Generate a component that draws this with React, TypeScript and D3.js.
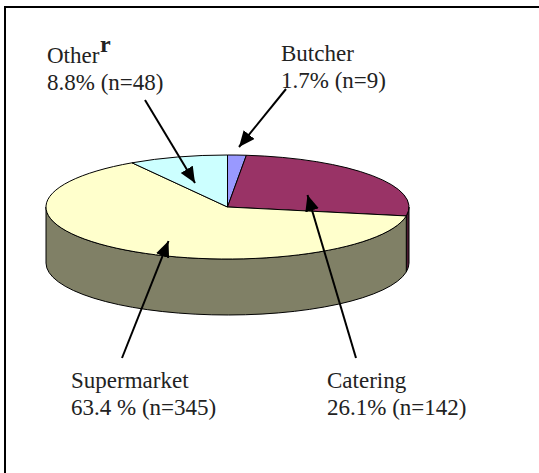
import React from 'react';
import * as d3 from 'd3';

// Pie of purchase locations, drawn as a tilted disc

const categories = ['Butcher', 'Catering', 'Supermarket', 'Other'];
const counts = [9, 142, 345, 48];
const percents = ['1.7%', '26.1%', '63.4 %', '8.8%'];
const topColors = ['#9999ff', '#993366', '#ffffcc', '#ccffff'];
const sideColors = ['#4d4d80', '#4d1a33', '#808066', '#668080'];

const W = 539, H = 473;
const cx = 227.5, cy = 207, rx = 181.5, ry = 52, depth = 56;
const FONT = '"Liberation Serif", "Times New Roman", serif';

const pie = d3.pie<number>().sort(null).value(d => d);
const arcs = pie(counts);
// unit circle, squashed by the transform on the group
const arcGen = d3.arc<d3.PieArcDatum<number>>().innerRadius(0).outerRadius(1);

const px = (a: number) => cx + rx * Math.sin(a);
const py = (a: number) => cy - ry * Math.cos(a);

// only the front half of the rim can be seen
function wallPath(a0: number, a1: number) {
  const s = Math.max(a0, Math.PI / 2), e = Math.min(a1, Math.PI * 1.5);
  if (e <= s) return null;
  return `M${px(s)},${py(s)}A${rx},${ry} 0 0 1 ${px(e)},${py(e)}` +
    `L${px(e)},${py(e) + depth}A${rx},${ry} 0 0 0 ${px(s)},${py(s) + depth}Z`;
}

const labels = [
  { i: 0, x: 281, y: 61, gap: 27 },
  { i: 1, x: 327, y: 388, gap: 27 },
  { i: 2, x: 71, y: 388, gap: 27 },
  { i: 3, x: 47, y: 63, gap: 27 },
];

const arrows = [
  { x1: 286, y1: 89, x2: 239, y2: 147 },
  { x1: 356, y1: 358, x2: 307.5, y2: 195 },
  { x1: 122, y1: 358, x2: 168.5, y2: 241 },
  { x1: 145, y1: 100, x2: 195, y2: 183 },
];

export default function App() {
  return (
    <svg width={W} height={H} style={{ position: 'absolute', left: 0, top: 0, background: '#fff' }}>
      <defs>
        <marker id="head" markerUnits="userSpaceOnUse" markerWidth="18" markerHeight="16"
          refX="16" refY="7" orient="auto">
          <path d="M0,0L16,7L0,14Z" fill="#000" />
        </marker>
      </defs>
      {/* frame runs off the right and bottom of the picture */}
      <rect x={5} y={7} width={W + 10} height={H + 10} fill="#fff" stroke="#000" strokeWidth={2} />
      {arcs.map((d, i) => {
        const p = wallPath(d.startAngle, d.endAngle);
        return p && <path key={i} d={p} fill={sideColors[i]} stroke="#000" strokeWidth={1} />;
      })}
      <g transform={`translate(${cx},${cy}) scale(${rx},${ry})`}>
        {arcs.map((d, i) => (
          <path key={categories[i]} d={arcGen(d) as string} fill={topColors[i]} stroke="#000"
            strokeWidth={1} vectorEffect="non-scaling-stroke" />
        ))}
      </g>
      {arrows.map((a, i) => (
        <line key={i} x1={a.x1} y1={a.y1} x2={a.x2} y2={a.y2} stroke="#000" strokeWidth={2}
          markerEnd="url(#head)" />
      ))}
      <g fontFamily={FONT} fontSize={23} fill="#222">
        {labels.map(l => (
          <text key={l.i} x={l.x} y={l.y}>
            <tspan>{categories[l.i]}</tspan>
            {l.i === 3 && <tspan x={100} y={52} fontWeight="bold" fontSize={24}>r</tspan>}
            <tspan x={l.x} y={l.y + l.gap}>{`${percents[l.i]} (n=${counts[l.i]})`}</tspan>
          </text>
        ))}
      </g>
    </svg>
  );
}
